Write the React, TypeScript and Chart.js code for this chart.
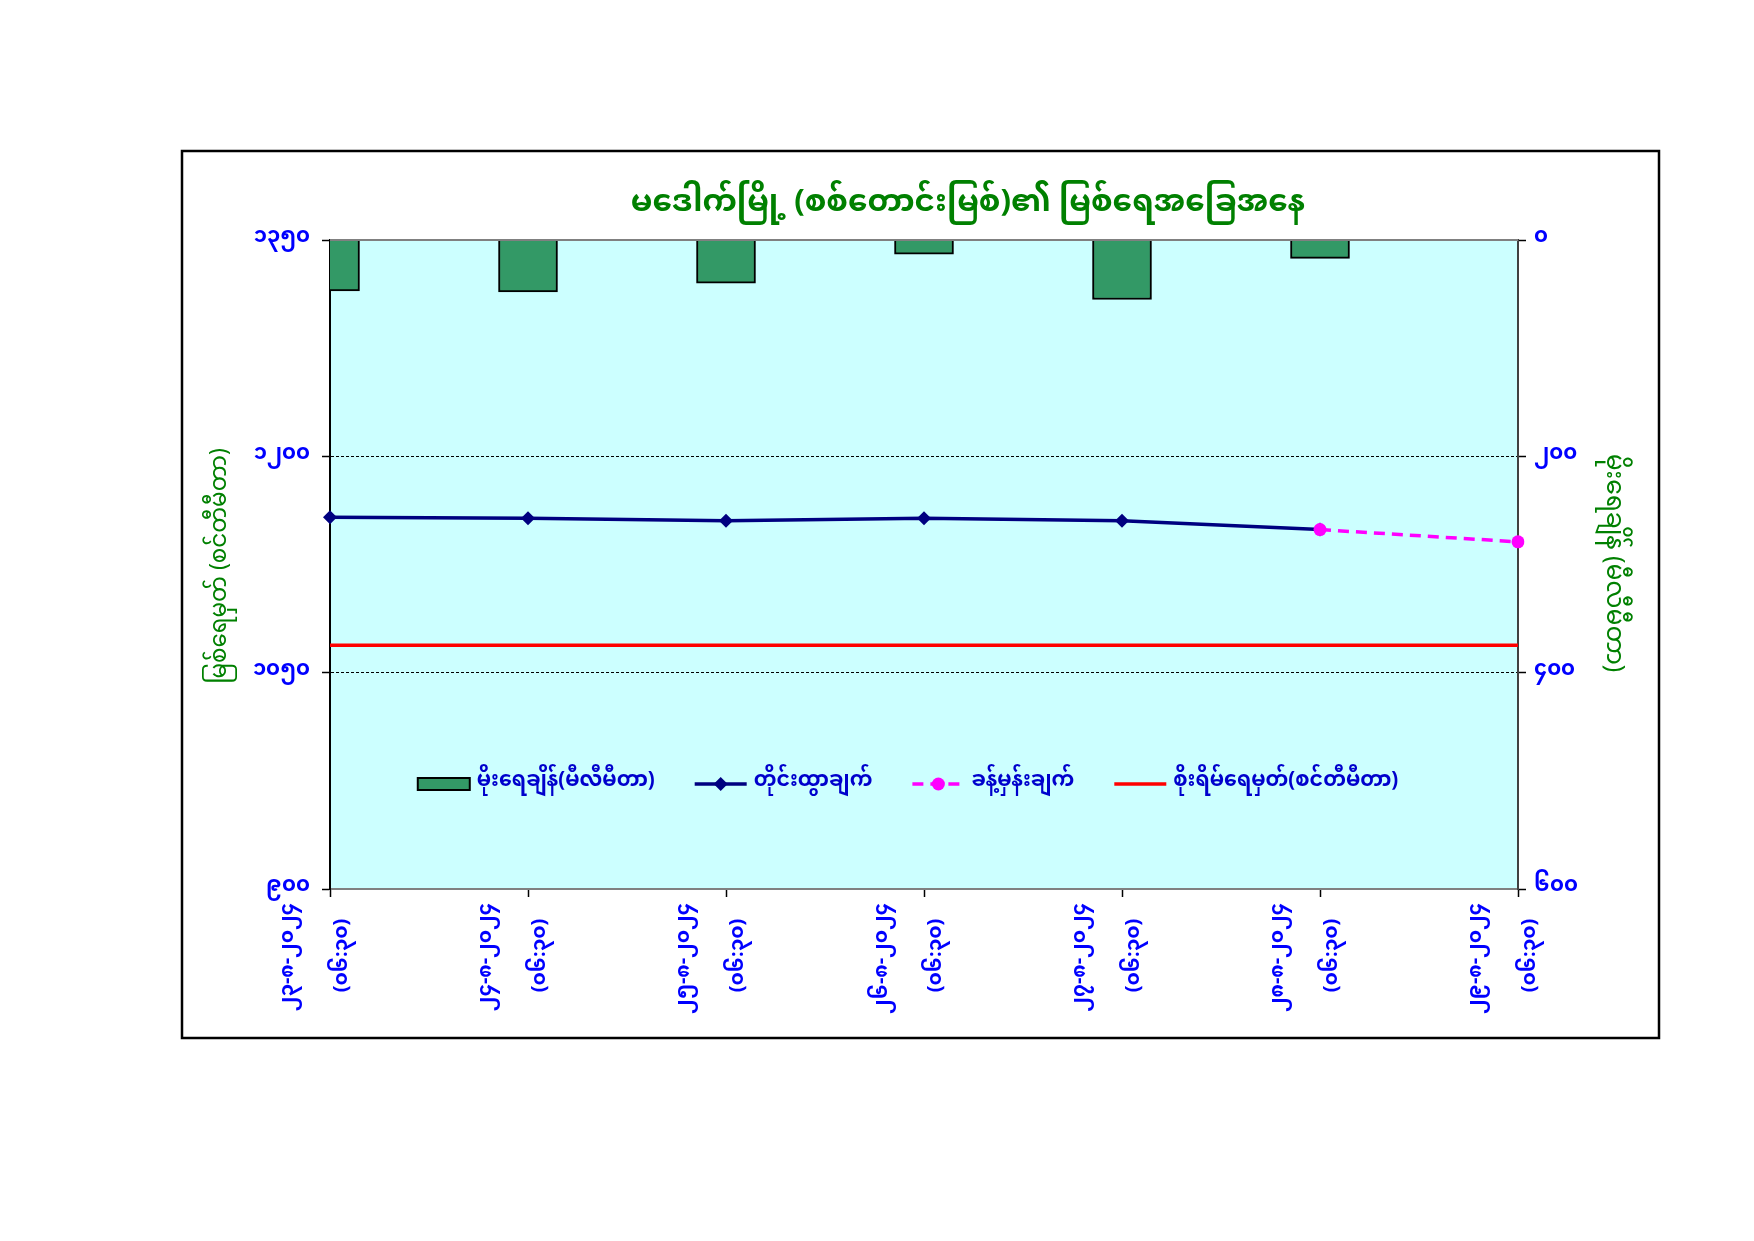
import React, { useEffect, useRef } from 'react';
import { Chart, registerables } from 'chart.js';

Chart.register(...registerables);

// ---------------- data ----------------
const categories: string[][] = [
  ['၂၃-၈-၂၀၂၄', '(၀၆:၃၀)   '],
  ['၂၄-၈-၂၀၂၄', '(၀၆:၃၀)   '],
  ['၂၅-၈-၂၀၂၄', '(၀၆:၃၀)   '],
  ['၂၆-၈-၂၀၂၄', '(၀၆:၃၀)   '],
  ['၂၇-၈-၂၀၂၄', '(၀၆:၃၀)   '],
  ['၂၈-၈-၂၀၂၄', '(၀၆:၃၀)   '],
  ['၂၉-၈-၂၀၂၄', '(၀၆:၃၀)   '],
];
const rainfall: (number | null)[] = [47, 48, 40, 13, 55, 17, null];
const observedLevel: (number | null)[] = [1157.8, 1157.0, 1155.4, 1157.0, 1155.4, 1149.2, null];
const forecastLevel: (number | null)[] = [null, null, null, null, null, 1149.2, 1140.7];
const dangerLevel: number[] = [1069, 1069, 1069, 1069, 1069, 1069, 1069];

const leftTickValues = [900, 1050, 1200, 1350];
const leftTickLabels = ['၉၀၀', '၁၀၅၀', '၁၂၀၀', '၁၃၅၀'];
const rightTickValues = [0, 200, 400, 600];
const rightTickLabels = ['၀', '၂၀၀', '၄၀၀', '၆၀၀'];

const titleText = 'မဒေါက်မြို့ (စစ်တောင်းမြစ်)၏ မြစ်ရေအခြေအနေ';
const leftAxisTitle = 'မြစ်ရေမှတ် (စင်တီမီတာ)';
const rightAxisTitle = 'မိုးရေချိန် (မီလီမီတာ)';
const seriesLabels = ['မိုးရေချိန်(မီလီမီတာ)', 'တိုင်းထွာချက်', 'ခန့်မှန်းချက်', 'စိုးရိမ်ရေမှတ်(စင်တီမီတာ)'];

// ---------------- style ----------------
const MM = '"Noto Sans Myanmar", "Padauk", "Myanmar Text", "Myanmar3", "Noto Sans", "DejaVu Sans", sans-serif';
const W = 1754;
const H = 1241;
const PLOT_RIGHT = 1518;
const PLOT_BOTTOM = 889;

const decorPlugin = {
  id: 'decor',
  beforeDraw(chart: any) {
    const { ctx, chartArea: a } = chart;
    ctx.save();
    ctx.fillStyle = '#FFFFFF';
    ctx.fillRect(0, 0, chart.width, chart.height);
    ctx.fillStyle = '#CCFFFF';
    ctx.fillRect(a.left, a.top, a.right - a.left, a.bottom - a.top);
    ctx.restore();
  },
  afterDatasetsDraw(chart: any) {
    const { ctx, chartArea: a } = chart;
    ctx.save();
    ctx.strokeStyle = '#808080';
    ctx.lineWidth = 2;
    ctx.beginPath();
    ctx.moveTo(a.left, a.top);
    ctx.lineTo(a.right, a.top);
    ctx.stroke();
    ctx.restore();
  },
  afterDraw(chart: any) {
    const { ctx } = chart;
    ctx.save();
    // outer frame
    ctx.strokeStyle = '#000000';
    ctx.lineWidth = 2.5;
    ctx.strokeRect(182, 151, 1659 - 182, 1038 - 151);

    // title
    ctx.fillStyle = '#008000';
    ctx.font = `bold 31px ${MM}`;
    ctx.textAlign = 'center';
    ctx.textBaseline = 'middle';
    ctx.fillText(titleText, 968, 208);

    // axis titles
    ctx.font = `23px ${MM}`;
    ctx.save();
    ctx.translate(224, 566);
    ctx.rotate(-Math.PI / 2);
    ctx.fillText(leftAxisTitle, 0, 0);
    ctx.restore();
    ctx.font = `25px ${MM}`;
    ctx.save();
    ctx.translate(1610, 563);
    ctx.rotate(Math.PI / 2);
    ctx.fillText(rightAxisTitle, 0, 0);
    ctx.restore();

    // legend
    const ds = chart.data.datasets;
    ctx.font = `bold 20.5px ${MM}`;
    const symW = 52;
    const gapSym = 7;
    const gapItem = 40;
    const widths = ds.map((d: any) => ctx.measureText(d.label).width);
    const total = widths.reduce((s: number, w: number) => s + symW + gapSym + w, 0) + gapItem * (ds.length - 1);
    let x = 908 - total / 2;
    const y = 784;
    ds.forEach((d: any, i: number) => {
      ctx.save();
      if (d.type === 'bar') {
        ctx.fillStyle = d.backgroundColor;
        ctx.fillRect(x, y - 6, symW, 12);
        ctx.strokeStyle = '#000';
        ctx.lineWidth = 2;
        ctx.strokeRect(x, y - 6, symW, 12);
      } else {
        ctx.strokeStyle = d.borderColor;
        ctx.lineWidth = d.borderWidth;
        ctx.setLineDash(d.borderDash || []);
        ctx.beginPath();
        ctx.moveTo(x, y);
        ctx.lineTo(x + symW, y);
        ctx.stroke();
        ctx.setLineDash([]);
        const cx = x + symW / 2;
        if (d.pointStyle === 'rectRot') {
          const r = 7;
          ctx.fillStyle = d.pointBackgroundColor;
          ctx.beginPath();
          ctx.moveTo(cx, y - r);
          ctx.lineTo(cx + r, y);
          ctx.lineTo(cx, y + r);
          ctx.lineTo(cx - r, y);
          ctx.closePath();
          ctx.fill();
        } else if (d.pointStyle === 'circle' && d.pointRadius > 0) {
          ctx.fillStyle = d.pointBackgroundColor;
          ctx.beginPath();
          ctx.arc(cx, y, 6.5, 0, Math.PI * 2);
          ctx.fill();
        }
      }
      ctx.restore();
      x += symW + gapSym;
      ctx.fillStyle = '#0000CC';
      ctx.textAlign = 'left';
      ctx.textBaseline = 'middle';
      ctx.fillText(d.label, x, y);
      x += widths[i] + gapItem;
    });
    ctx.restore();
  },
};

export default function App() {
  const ref = useRef<HTMLCanvasElement | null>(null);

  useEffect(() => {
    if (!ref.current) return;
    const tickFont = { family: MM, size: 21, weight: 'bold' as const };
    const chart = new Chart(ref.current, {
      type: 'bar',
      data: {
        labels: categories,
        datasets: [
          {
            type: 'bar',
            label: seriesLabels[0],
            data: rainfall,
            yAxisID: 'y1',
            backgroundColor: '#339966',
            borderColor: '#000000',
            borderWidth: 2,
            barThickness: 59,
            clip: 0,
            order: 4,
          } as any,
          {
            type: 'line',
            label: seriesLabels[1],
            data: observedLevel,
            yAxisID: 'y',
            borderColor: '#000080',
            backgroundColor: '#000080',
            pointBackgroundColor: '#000080',
            pointBorderColor: '#000080',
            borderWidth: 3.5,
            pointStyle: 'rectRot',
            pointRadius: 7,
            pointBorderWidth: 0,
            tension: 0,
            spanGaps: false,
            order: 2,
          } as any,
          {
            type: 'line',
            label: seriesLabels[2],
            data: forecastLevel,
            yAxisID: 'y',
            borderColor: '#FF00FF',
            backgroundColor: '#FF00FF',
            pointBackgroundColor: '#FF00FF',
            pointBorderColor: '#FF00FF',
            borderWidth: 3.5,
            borderDash: [11, 7],
            pointStyle: 'circle',
            pointRadius: 6.5,
            pointBorderWidth: 0,
            tension: 0,
            order: 1,
          } as any,
          {
            type: 'line',
            label: seriesLabels[3],
            data: dangerLevel,
            yAxisID: 'y',
            borderColor: '#FF0000',
            backgroundColor: '#FF0000',
            borderWidth: 3.5,
            pointRadius: 0,
            pointStyle: 'line',
            tension: 0,
            order: 3,
          } as any,
        ],
      },
      options: {
        responsive: false,
        animation: false,
        events: [],
        layout: { padding: { top: 240, left: 0, right: 0, bottom: 0 } },
        plugins: {
          legend: { display: false },
          title: { display: false },
          tooltip: { enabled: false },
        },
        scales: {
          x: {
            type: 'category',
            offset: false,
            afterFit: (s: any) => { s.height = H - PLOT_BOTTOM; },
            grid: {
              offset: false,
              display: true,
              drawOnChartArea: false,
              drawTicks: true,
              tickLength: 8,
              tickColor: '#000000',
              tickWidth: 1.5,
            },
            border: { display: true, color: '#808080', width: 2 },
            ticks: {
              autoSkip: false,
              minRotation: 90,
              maxRotation: 90,
              padding: 6,
              labelOffset: -39,
              color: '#0000FF',
              font: { family: MM, size: 20, weight: 'bold', lineHeight: 2.7 } as any,
            },
          },
          y: {
            type: 'linear',
            position: 'left',
            min: 900,
            max: 1350,
            afterFit: (s: any) => { s.width = 330; },
            afterBuildTicks: (s: any) => { s.ticks = leftTickValues.map((v) => ({ value: v })); },
            grid: {
              color: (c: any) => (c.tick && (c.tick.value === 900 || c.tick.value === 1350) ? 'rgba(0,0,0,0)' : '#000000'),
              lineWidth: 1,
              drawTicks: true,
              tickLength: 8,
              tickColor: '#000000',
              tickWidth: 1.5,
            },
            border: { display: true, color: '#000000', width: 2, dash: [3, 2] },
            ticks: {
              padding: 12,
              color: '#0000FF',
              font: tickFont,
              callback: (v: any) => {
                const i = leftTickValues.indexOf(Number(v));
                return i >= 0 ? leftTickLabels[i] : '';
              },
            },
          },
          y1: {
            type: 'linear',
            position: 'right',
            min: 0,
            max: 600,
            reverse: true,
            afterFit: (s: any) => { s.width = W - PLOT_RIGHT; },
            afterBuildTicks: (s: any) => { s.ticks = rightTickValues.map((v) => ({ value: v })); },
            grid: {
              drawOnChartArea: false,
              drawTicks: true,
              tickLength: 8,
              tickColor: '#000000',
              tickWidth: 1.5,
            },
            border: { display: true, color: '#404040', width: 2 },
            ticks: {
              padding: 8,
              color: '#0000FF',
              font: tickFont,
              callback: (v: any) => {
                const i = rightTickValues.indexOf(Number(v));
                return i >= 0 ? rightTickLabels[i] : '';
              },
            },
          },
        },
      } as any,
      plugins: [decorPlugin],
    });
    return () => chart.destroy();
  }, []);

  return (
    <div style={{ position: 'absolute', left: 0, top: 0, width: W, height: H, background: '#fff' }}>
      <canvas ref={ref} width={W} height={H} style={{ display: 'block', width: W, height: H }} />
    </div>
  );
}
